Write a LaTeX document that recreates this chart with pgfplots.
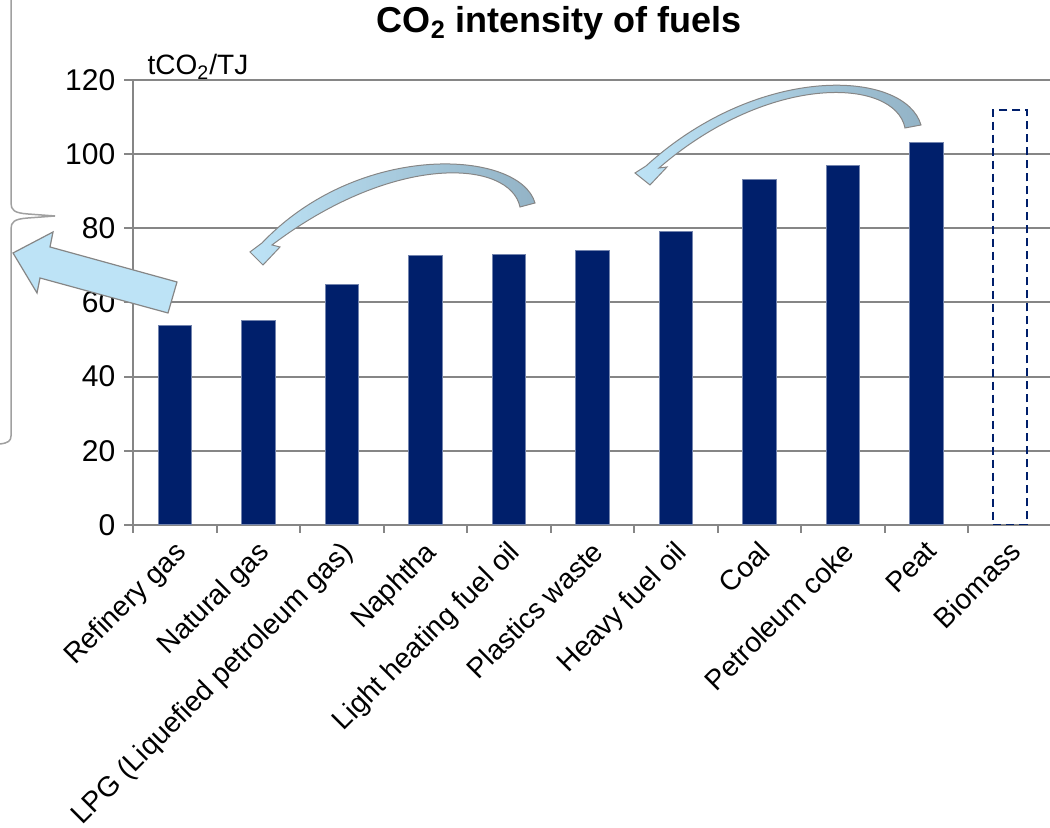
\documentclass[border=0pt]{standalone}
\usepackage{pgfplots}
\pgfplotsset{compat=1.18}
\usepackage{fontspec}
\setmainfont{Liberation Sans}
\definecolor{barblue}{RGB}{0,31,107}
\definecolor{gridgray}{RGB}{134,134,134}
\definecolor{arrowlight}{RGB}{189,227,246}
\definecolor{arrowdark}{RGB}{147,179,198}
\definecolor{bracegray}{RGB}{160,160,160}
\begin{document}
\begin{tikzpicture}[x=1pt,y=1pt]
\useasboundingbox (0,0) rectangle (525,414);
\begin{axis}[
  at={(66.65pt,151.5pt)}, anchor=south west,
  scale only axis, width=459.2pt, height=222.5pt,
  xmin=-0.5, xmax=10.5, ymin=0, ymax=120,
  ytick={0,20,...,120},
  xtick={0,...,10},
  xticklabels={Refinery gas,Natural gas,LPG (Liquefied petroleum gas),Naphtha,Light heating fuel oil,Plastics waste,Heavy fuel oil,Coal,Petroleum coke,Peat,Biomass},
  minor xtick={-0.5,0.5,...,10.5},
  ymajorgrids, grid style={gridgray, line width=1pt},
  axis x line*=bottom, axis y line*=left,
  axis line style={gridgray, line width=1pt, -},
  tick align=outside,
  major tick length=4.5pt, minor tick length=4pt,
  tick style={gridgray, line width=1pt},
  every major x tick/.style={draw=none},
  /pgf/number format/assume math mode=true,
  yticklabel style={font=\fontsize{15}{18}\selectfont, xshift=-1pt},
  xticklabel style={font=\fontsize{14.1}{17}\selectfont, rotate=45, anchor=north east, inner sep=1pt, xshift=-1.5pt},
  title={\textbf{CO\textsubscript{2} intensity of fuels}},
  every axis title shift=0pt,
  title style={font=\fontsize{18}{21}\selectfont, at={(0.464,1)}, anchor=base, yshift=23.5pt},
  ylabel={tCO\textsubscript{2}/TJ},
  every axis y label/.style={font=\fontsize{14}{16}\selectfont, at={(axis description cs:0.008,1)}, anchor=base west, yshift=2.5pt},
]
\addplot[ybar, bar width=0.4, bar shift=0pt, fill=barblue, draw=barblue!55!white, line width=0.5pt]
  coordinates {(0,53.7) (1,55.1) (2,64.8) (3,72.6) (4,73.0) (5,74.1) (6,79.1) (7,93.1) (8,97.0) (9,103.2)};
\addplot[ybar, bar width=0.4, bar shift=0pt, fill=none, draw=barblue, line width=1pt, dash pattern=on 4pt off 2.5pt]
  coordinates {(10,112)};
\end{axis}
\begin{scope}[x=0.5pt, y=-0.5pt, shift={(0,414pt)}]
  % brace
  \draw[bracegray, line width=0.75pt] (11,-20) -- (11,203) .. controls (11,210) and (14,213) .. (28,214) -- (55,216) -- (28,218) .. controls (14,219) and (11,222) .. (11,229) -- (11,436) .. controls (11,441) and (8,443) .. (0,444);
  % big arrow
  \draw[gridgray, line width=0.6pt, fill=arrowlight] (177,282) -- (168,313) -- (40,278) -- (37,293) -- (13,253) -- (53,232) -- (50,247) -- cycle;
  % curved arrow 1
  \draw[gridgray, line width=0.5pt, left color=arrowlight, right color=arrowdark]
    (535,203) .. controls (520,150) and (360,140) .. (262,243)
    -- (250,252) -- (263,265) -- (280,247) -- (272,245)
    .. controls (395,152) and (510,160) .. (520,207) -- cycle;
  % curved arrow 2
  \draw[gridgray, line width=0.5pt, left color=arrowlight, right color=arrowdark]
    (921,125) .. controls (905,70) and (760,62) .. (646,166)
    -- (635,173) -- (650,185) -- (667,167) -- (659,168)
    .. controls (770,72) and (895,78) .. (905,128) -- cycle;
\end{scope}
\end{tikzpicture}
\end{document}
